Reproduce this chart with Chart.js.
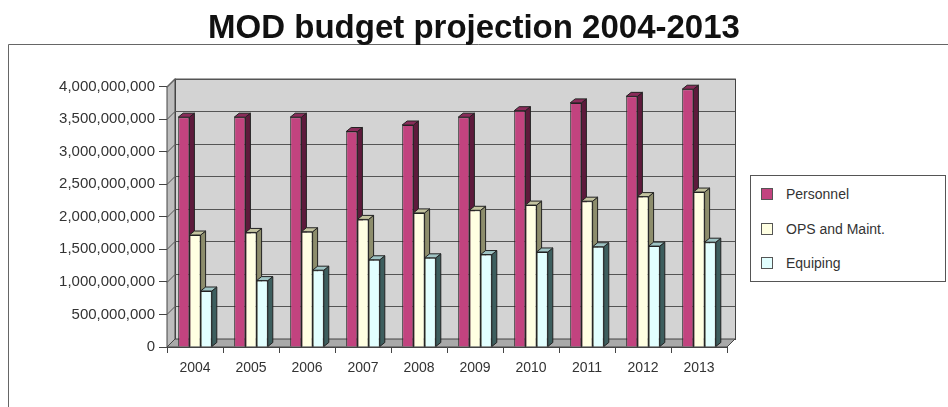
<!DOCTYPE html>
<html>
<head>
<meta charset="utf-8">
<script src="https://cdn.jsdelivr.net/npm/chart.js@4/dist/chart.umd.min.js"></script>
<style>
  html, body { margin: 0; padding: 0; background: #fff; }
  #wrap { position: relative; width: 948px; height: 407px; }
  #legendBox {
    position: absolute; left: 750px; top: 175px; width: 196px; height: 107px;
    border: 1px solid #555; box-sizing: border-box; background: #fff;
    font-family: "Liberation Sans", Arial, sans-serif; font-size: 14px; color: #333;
  }
  #legendBox ul { list-style: none; margin: 0; padding: 1px 0 0 10px; }
  #legendBox li { display: flex; align-items: center; height: 34.5px; }
  #legendBox span { display: inline-block; width: 10px; height: 10px; margin-right: 13px; border: 1px solid #555; }
</style>
</head>
<body>
<div id="wrap">
  <canvas id="myChart" width="948" height="407"></canvas>
  <div id="legendBox"></div>
</div>
<script>
const years = ["2004", "2005", "2006", "2007", "2008", "2009", "2010", "2011", "2012", "2013"];
const personnel = [3530000000, 3530000000, 3530000000, 3310000000, 3410000000, 3530000000, 3630000000, 3750000000, 3850000000, 3960000000];
const opsMaint = [1720000000, 1760000000, 1770000000, 1960000000, 2060000000, 2100000000, 2180000000, 2240000000, 2310000000, 2380000000];
const equiping = [860000000, 1020000000, 1180000000, 1340000000, 1370000000, 1420000000, 1460000000, 1540000000, 1550000000, 1610000000];
const yTicks = [0, 500000000, 1000000000, 1500000000, 2000000000, 2500000000, 3000000000, 3500000000, 4000000000];

const seriesNames = ["Personnel", "OPS and Maint.", "Equiping"];
const frontColors = ["#c2437f", "#ffffe2", "#e2ffff"];
const sideColors = ["#5e1a3c", "#8d8d6c", "#3d5e5e"];
const topColors = ["#8a2c5a", "#c4c4a0", "#9fc4c4"];

// depth of the box and of each bar (oblique projection up-right)
const WALL_D = 8;
const BAR_DX = 5;
const BAR_DY = 4;

const threeD = {
  id: "threeD",
  beforeDraw(chart) {
    const ctx = chart.ctx;
    ctx.save();
    // outer frame
    ctx.strokeStyle = "#666";
    ctx.lineWidth = 1;
    ctx.beginPath();
    ctx.moveTo(8.5, 407);
    ctx.lineTo(8.5, 44.5);
    ctx.lineTo(948, 44.5);
    ctx.stroke();
    ctx.restore();
  },
  beforeDatasetsDraw(chart) {
    const ctx = chart.ctx;
    const a = chart.chartArea;
    const y = chart.scales.y;
    const d = WALL_D;
    ctx.save();
    ctx.lineWidth = 1;
    ctx.strokeStyle = "#444";
    // back wall
    ctx.fillStyle = "#d3d3d3";
    ctx.fillRect(a.left + d, a.top - d, a.right - a.left, a.bottom - a.top);
    ctx.strokeRect(a.left + d + 0.5, a.top - d + 0.5, a.right - a.left, a.bottom - a.top);
    // side wall
    ctx.fillStyle = "#bdbdbd";
    ctx.beginPath();
    ctx.moveTo(a.left, a.top);
    ctx.lineTo(a.left + d, a.top - d);
    ctx.lineTo(a.left + d, a.bottom - d);
    ctx.lineTo(a.left, a.bottom);
    ctx.closePath();
    ctx.fill();
    ctx.stroke();
    // gridlines on back wall and side wall
    ctx.strokeStyle = "#555";
    yTicks.forEach((v) => {
      const py = Math.round(y.getPixelForValue(v)) + 0.5;
      ctx.beginPath();
      ctx.moveTo(a.left, py);
      ctx.lineTo(a.left + d, py - d);
      ctx.lineTo(a.right + d, py - d);
      ctx.stroke();
    });
    // floor
    ctx.fillStyle = "#a9a9a9";
    ctx.beginPath();
    ctx.moveTo(a.left, a.bottom);
    ctx.lineTo(a.left + d, a.bottom - d);
    ctx.lineTo(a.right + d, a.bottom - d);
    ctx.lineTo(a.right, a.bottom);
    ctx.closePath();
    ctx.fill();
    ctx.strokeStyle = "#444";
    ctx.stroke();

    // bar depth faces (fronts are drawn by Chart.js on top)
    chart.data.datasets.forEach((ds, i) => {
      const meta = chart.getDatasetMeta(i);
      meta.data.forEach((bar) => {
        const l = bar.x - bar.width / 2;
        const r = bar.x + bar.width / 2;
        const t = bar.y;
        const b = bar.base;
        ctx.strokeStyle = "#222";
        // side
        ctx.fillStyle = sideColors[i];
        ctx.beginPath();
        ctx.moveTo(r, t);
        ctx.lineTo(r + BAR_DX, t - BAR_DY);
        ctx.lineTo(r + BAR_DX, b - BAR_DY);
        ctx.lineTo(r, b);
        ctx.closePath();
        ctx.fill();
        ctx.stroke();
        // top
        ctx.fillStyle = topColors[i];
        ctx.beginPath();
        ctx.moveTo(l, t);
        ctx.lineTo(l + BAR_DX, t - BAR_DY);
        ctx.lineTo(r + BAR_DX, t - BAR_DY);
        ctx.lineTo(r, t);
        ctx.closePath();
        ctx.fill();
        ctx.stroke();
      });
    });
    ctx.restore();
  },
};

const htmlLegend = {
  id: "htmlLegend",
  afterUpdate(chart) {
    const box = document.getElementById("legendBox");
    box.innerHTML = "";
    const ul = document.createElement("ul");
    chart.data.datasets.forEach((ds, i) => {
      const li = document.createElement("li");
      const sw = document.createElement("span");
      sw.style.background = frontColors[i];
      li.appendChild(sw);
      li.appendChild(document.createTextNode(ds.label));
      ul.appendChild(li);
    });
    box.appendChild(ul);
  },
};

const data = {
  labels: years,
  datasets: [personnel, opsMaint, equiping].map((vals, i) => ({
    label: seriesNames[i],
    data: vals,
    backgroundColor: frontColors[i],
    borderColor: "#222",
    borderWidth: 1,
    barPercentage: 1.0,
    categoryPercentage: 0.6,
  })),
};

new Chart(document.getElementById("myChart"), {
  type: "bar",
  data: data,
  options: {
    responsive: false,
    animation: false,
    layout: { padding: 0 },
    plugins: {
      legend: { display: false },
      tooltip: { enabled: false },
      title: {
        display: true,
        text: "MOD budget projection 2004-2013",
        color: "#111",
        font: { family: "Liberation Sans", size: 33, weight: "bold" },
        padding: { top: 9, bottom: 38 },
      },
    },
    scales: {
      x: {
        grid: { drawOnChartArea: false, tickLength: 6, color: "#444", offset: true },
        border: { color: "#444" },
        ticks: {
          color: "#333",
          padding: 7,
          font: { family: "Liberation Sans", size: 14 },
          maxRotation: 0,
          minRotation: 0,
        },
        afterFit(scale) { scale.height = 60; },
      },
      y: {
        min: 0,
        max: 4000000000,
        grid: { drawOnChartArea: false, tickLength: 8, color: "#444" },
        border: { color: "#444" },
        afterBuildTicks(scale) { scale.ticks = yTicks.map((v) => ({ value: v })); },
        ticks: {
          color: "#333",
          padding: 4,
          font: { family: "Liberation Sans", size: 15 },
          callback: (v) => v.toLocaleString("en-US"),
        },
        afterFit(scale) { scale.width = 167; },
      },
      // empty right axis: keeps room for the legend so the title stays centred on the page
      yRight: {
        position: "right",
        display: true,
        grid: { display: false },
        border: { display: false },
        ticks: { display: false },
        afterFit(scale) { scale.width = 221; },
      },
    },
  },
  plugins: [threeD, htmlLegend],
});
</script>
</body>
</html>
